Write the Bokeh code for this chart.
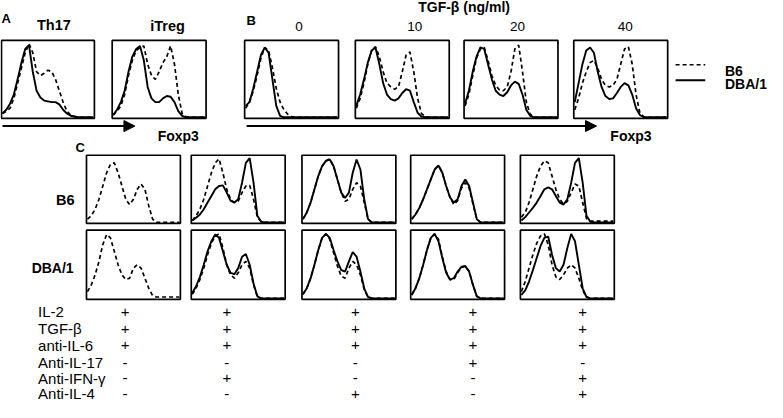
from bokeh.plotting import figure
from bokeh.models import Range1d, Arrow, NormalHead
from bokeh.core.properties import value
from bokeh.embed import file_html
from bokeh.resources import INLINE

# ---------------- data: normalised histogram heights (25 bins across Foxp3 axis) ----------------
th17_b6   = [0.05,0.08,0.12,0.25,0.45,0.65,0.85,0.97,0.85,0.6,0.55,0.58,0.62,0.6,0.5,0.35,0.2,0.08,0.03,0.01,0,0,0,0,0]
th17_dba  = [0.05,0.1,0.18,0.3,0.5,0.72,0.9,0.95,0.6,0.35,0.26,0.22,0.21,0.2,0.2,0.17,0.1,0.05,0.02,0.01,0,0,0,0,0]
itreg_b6  = [0.03,0.08,0.15,0.3,0.55,0.75,0.88,0.92,0.94,0.7,0.55,0.5,0.6,0.72,0.8,0.94,0.7,0.3,0.05,0.01,0,0,0,0,0]
itreg_dba = [0.03,0.1,0.2,0.35,0.6,0.8,0.9,0.94,0.75,0.4,0.25,0.2,0.2,0.25,0.28,0.27,0.2,0.08,0.02,0,0,0,0,0,0]

tgf_doses = ["0", "10", "20", "40"]
tgf_b6  = [
    [0.12,0.2,0.35,0.55,0.78,0.92,0.88,0.65,0.38,0.2,0.1,0.04,0.01,0,0,0,0,0,0,0,0,0,0,0,0],
    [0.12,0.25,0.45,0.7,0.88,0.93,0.8,0.6,0.45,0.4,0.37,0.4,0.6,0.82,0.86,0.6,0.25,0.05,0.01,0,0,0,0,0,0],
    [0.15,0.3,0.55,0.78,0.9,0.92,0.75,0.55,0.42,0.36,0.35,0.4,0.6,0.9,0.95,0.6,0.2,0.04,0,0,0,0,0,0,0],
    [0.1,0.25,0.45,0.6,0.72,0.75,0.65,0.5,0.42,0.4,0.42,0.5,0.7,0.9,0.93,0.7,0.3,0.06,0.01,0,0,0,0,0,0],
]
tgf_dba = [
    [0.15,0.2,0.38,0.6,0.82,0.92,0.85,0.5,0.15,0.02,0,0,0,0,0,0,0,0,0,0,0,0,0,0,0],
    [0.15,0.3,0.5,0.72,0.88,0.92,0.7,0.45,0.3,0.24,0.22,0.25,0.32,0.37,0.35,0.2,0.06,0.01,0,0,0,0,0,0,0],
    [0.18,0.35,0.6,0.8,0.92,0.9,0.7,0.5,0.35,0.3,0.28,0.33,0.42,0.47,0.44,0.3,0.1,0.02,0,0,0,0,0,0,0],
    [0.2,0.45,0.7,0.88,0.92,0.85,0.6,0.4,0.28,0.24,0.25,0.32,0.4,0.45,0.42,0.3,0.12,0.03,0,0,0,0,0,0,0],
]

# panel C: rows = cells from B6 mice / DBA/1 mice, 5 culture conditions
c_b6_row_b6 = [
    [0.05,0.1,0.2,0.35,0.55,0.75,0.88,0.9,0.75,0.55,0.35,0.27,0.35,0.5,0.58,0.5,0.25,0.05,0,0,0,0,0,0,0],
    [0.03,0.1,0.2,0.35,0.55,0.75,0.9,0.96,0.75,0.5,0.35,0.3,0.32,0.45,0.55,0.56,0.35,0.08,0.01,0,0,0,0,0,0],
    [0.05,0.15,0.3,0.5,0.7,0.85,0.93,0.96,0.85,0.65,0.45,0.32,0.35,0.5,0.6,0.55,0.3,0.05,0,0,0,0,0,0,0],
    [0.05,0.12,0.22,0.35,0.5,0.65,0.8,0.86,0.75,0.55,0.38,0.27,0.33,0.52,0.6,0.52,0.28,0.05,0,0,0,0,0,0,0],
    [0.08,0.15,0.3,0.5,0.7,0.85,0.93,0.9,0.7,0.5,0.35,0.28,0.32,0.45,0.58,0.55,0.3,0.06,0.02,0.02,0.02,0.02,0.02,0.02,0.02],
]
c_b6_row_dba = [
    None,
    [0.03,0.07,0.12,0.2,0.3,0.4,0.5,0.55,0.56,0.45,0.33,0.3,0.35,0.6,0.9,0.97,0.6,0.1,0.01,0,0,0,0,0,0],
    [0.05,0.15,0.3,0.5,0.7,0.85,0.93,0.95,0.85,0.65,0.45,0.37,0.45,0.75,0.95,0.8,0.35,0.05,0,0,0,0,0,0,0],
    [0.05,0.12,0.22,0.35,0.5,0.65,0.8,0.86,0.75,0.55,0.38,0.3,0.35,0.55,0.65,0.55,0.3,0.05,0,0,0,0,0,0,0],
    [0.03,0.08,0.15,0.22,0.3,0.4,0.5,0.53,0.5,0.4,0.3,0.27,0.35,0.6,0.9,0.97,0.6,0.1,0.01,0,0,0,0,0,0],
]
c_dba_row_b6 = [
    [0.1,0.2,0.35,0.55,0.8,0.95,0.9,0.7,0.5,0.35,0.28,0.3,0.45,0.5,0.45,0.3,0.15,0.04,0.02,0.02,0.02,0.02,0.02,0.02,0.02],
    [0.06,0.15,0.28,0.45,0.65,0.82,0.93,0.96,0.75,0.5,0.35,0.3,0.38,0.5,0.55,0.45,0.2,0.03,0,0,0,0,0,0,0],
    [0.06,0.15,0.3,0.5,0.72,0.9,0.96,0.88,0.68,0.48,0.33,0.3,0.45,0.55,0.5,0.35,0.13,0.02,0,0,0,0,0,0,0],
    [0.05,0.15,0.3,0.5,0.72,0.9,0.96,0.88,0.62,0.4,0.28,0.28,0.38,0.46,0.48,0.4,0.2,0.03,0,0,0,0,0,0,0],
    [0.1,0.25,0.45,0.65,0.82,0.93,0.96,0.8,0.5,0.32,0.28,0.35,0.45,0.5,0.45,0.3,0.12,0.02,0,0,0,0,0,0,0],
]
c_dba_row_dba = [
    None,
    [0.08,0.18,0.32,0.5,0.7,0.85,0.95,0.9,0.7,0.5,0.38,0.36,0.45,0.62,0.66,0.5,0.22,0.03,0,0,0,0,0,0,0],
    [0.06,0.15,0.3,0.5,0.72,0.9,0.96,0.9,0.72,0.55,0.42,0.4,0.55,0.69,0.62,0.4,0.15,0.02,0,0,0,0,0,0,0],
    [0.05,0.15,0.3,0.5,0.72,0.9,0.96,0.85,0.6,0.38,0.28,0.3,0.4,0.47,0.48,0.4,0.2,0.03,0,0,0,0,0,0,0],
    [0.05,0.12,0.25,0.42,0.6,0.78,0.9,0.92,0.65,0.45,0.4,0.5,0.75,0.96,0.85,0.5,0.15,0.02,0,0,0,0,0,0,0],
]

reagents = ["IL-2", "TGF-β", "anti-IL-6", "Anti-IL-17", "Anti-IFN-γ", "Anti-IL-4"]
conditions = [
    ["+", "+", "+", "-", "-", "-"],
    ["+", "+", "+", "-", "+", "-"],
    ["+", "+", "+", "-", "-", "+"],
    ["+", "+", "+", "+", "-", "-"],
    ["+", "+", "+", "-", "+", "+"],
]
series_names = ["B6", "DBA/1"]

# ---------------- layout (reference pixel space) ----------------
FONT = value("Liberation Sans")
p = figure(width=767, height=402, x_range=Range1d(4, 780), y_range=Range1d(418, 5),
           output_backend="svg", toolbar_location=None, min_border=0)
p.axis.visible = False
p.grid.visible = False
p.outline_line_color = None
p.background_fill_color = "white"

box_x0, box_x1, box_y0, box_y1 = [], [], [], []
dash_xs, dash_ys, solid_xs, solid_ys = [], [], [], []

def panel(x0, x1, y0, y1, b6, dba):
    box_x0.append(x0); box_x1.append(x1); box_y0.append(y0); box_y1.append(y1)
    for vals, xs_l, ys_l in ((b6, dash_xs, dash_ys), (dba, solid_xs, solid_ys)):
        if vals is None:
            continue
        n = len(vals) - 1
        xs_l.append([x0 + 1 + i / n * (x1 - x0 - 2) for i in range(n + 1)])
        ys_l.append([y1 - 1 - v * (y1 - y0 - 2) for v in vals])

# panel A
panel(5, 99, 46, 126, th17_b6, th17_dba)
panel(117, 212, 46, 126, itreg_b6, itreg_dba)
# panel B
b_lefts = [251, 363, 473, 584]
for i in range(4):
    panel(b_lefts[i], b_lefts[i] + 95, 46, 126, tgf_b6[i], tgf_dba[i])
# panel C
c_lefts = [91, 197, 309, 419, 530]
for i in range(5):
    panel(c_lefts[i], c_lefts[i] + 95, 164, 234, c_b6_row_b6[i], c_b6_row_dba[i])
    panel(c_lefts[i], c_lefts[i] + 95, 241, 312, c_dba_row_b6[i], c_dba_row_dba[i])

p.multi_line(xs=dash_xs, ys=dash_ys, line_color="black", line_width=1.7, line_dash="4 3")
p.multi_line(xs=solid_xs, ys=solid_ys, line_color="black", line_width=1.9)
p.quad(left=box_x0, right=box_x1, top=box_y0, bottom=box_y1, fill_color=None,
       line_color="black", line_width=1.7)

# arrows
p.add_layout(Arrow(x_start=6, y_start=134, x_end=140, y_end=134, line_width=2,
                   end=NormalHead(size=11, fill_color="black", line_color="black")))
p.add_layout(Arrow(x_start=253, y_start=134, x_end=607, y_end=134, line_width=2,
                   end=NormalHead(size=11, fill_color="black", line_color="black")))

# legend
p.line([687, 717], [71, 71], line_color="black", line_width=1.7, line_dash="4 3")
p.line([687, 717], [87, 87], line_color="black", line_width=1.9)

def txt(x, y, s, size="14px", bold=True, align="left", baseline="middle"):
    p.text(x=[x], y=[y], text=[s], text_font=FONT, text_font_size=size,
           text_font_style="bold" if bold else "normal", text_align=align,
           text_baseline=baseline, text_color="black")

txt(737, 77, series_names[0])
txt(737, 91, series_names[1])

# panel letters and titles
txt(5, 23, "A", size="13px")
txt(253, 26, "B", size="13px")
txt(80, 156, "C", size="13px")
txt(58, 30, "Th17", size="14.5px", align="center")
txt(173, 31, "iTreg", size="14.5px", align="center")
txt(163, 144, "Foxp3")
txt(621, 144, "Foxp3")
txt(473, 12, "TGF-β (ng/ml)", align="center")
dose_x = [306, 423, 527, 636]
for i, d in enumerate(tgf_doses):
    txt(dose_x[i], 32, d, size="13.5px", bold=False, align="center")
txt(79, 210, series_names[0], size="14.5px", align="right")
txt(78, 280, series_names[1], align="right")

# treatment table
row_y = [325, 342, 359, 377, 393, 409]
col_x = [130, 233, 363, 482, 593]
for r, name in enumerate(reagents):
    txt(42, row_y[r], name, size="15px", bold=False)
for c, col in enumerate(conditions):
    for r, s in enumerate(col):
        txt(col_x[c], row_y[r], s, size="15px", bold=False, align="center")

open("out.html", "w").write(file_html(p, INLINE))
